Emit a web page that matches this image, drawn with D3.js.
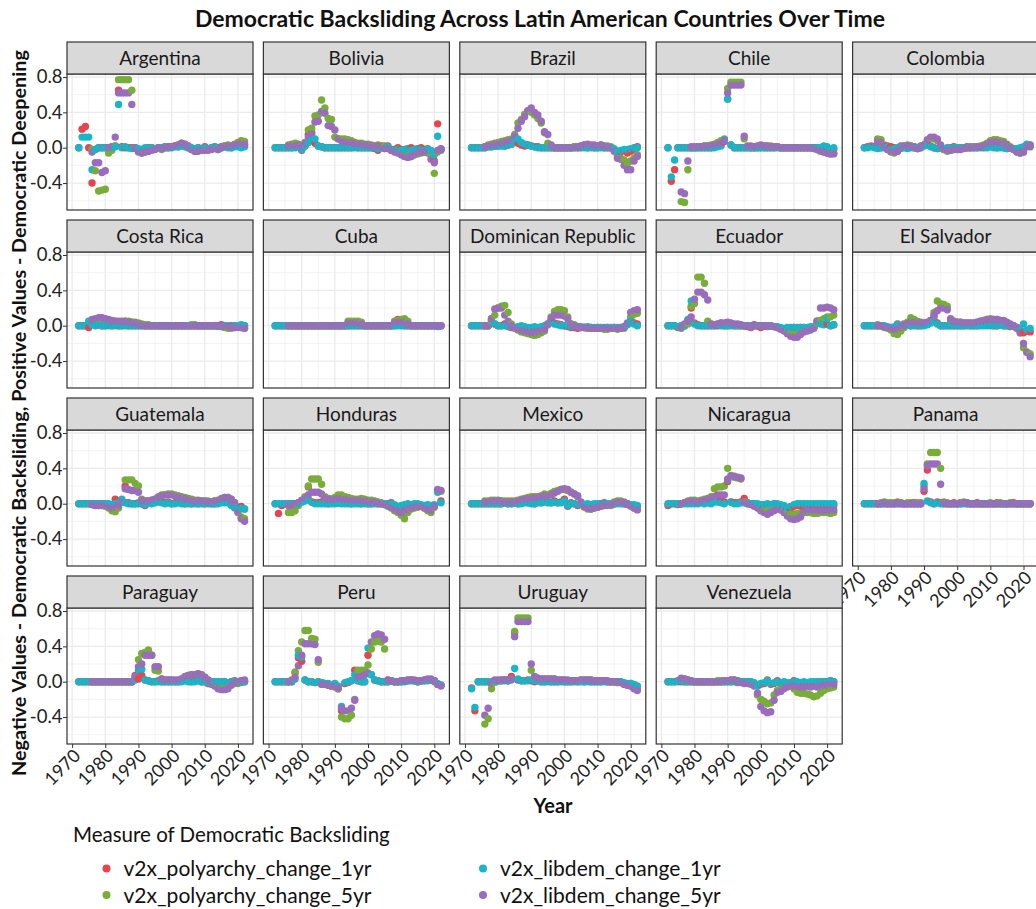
<!DOCTYPE html>
<html>
<head>
<meta charset="utf-8">
<script src="https://cdn.jsdelivr.net/npm/d3@7"></script>
<style>
  body { margin: 0; background: #fff; }
  text { font-family: Lato, "Open Sans", sans-serif; }
</style>
</head>
<body>
<svg id="chart" width="1036" height="909"></svg>
<script>
// years of the yearly change series
const years = [1972,1973,1974,1975,1976,1977,1978,1979,
  1980,1981,1982,1983,1984,1985,1986,1987,1988,1989,
  1990,1991,1992,1993,1994,1995,1996,1997,1998,1999,
  2000,2001,2002,2003,2004,2005,2006,2007,2008,2009,
  2010,2011,2012,2013,2014,2015,2016,2017,2018,2019,
  2020,2021,2022];

const measures = ["v2x_polyarchy_change_1yr", "v2x_polyarchy_change_5yr",
  "v2x_libdem_change_1yr", "v2x_libdem_change_5yr"];
const colors = ["#E5454F", "#79AD39", "#17B6C8", "#9A6CBD"];

const countries = ["Argentina", "Bolivia", "Brazil", "Chile", "Colombia",
  "Costa Rica", "Cuba", "Dominican Republic", "Ecuador", "El Salvador",
  "Guatemala", "Honduras", "Mexico", "Nicaragua", "Panama",
  "Paraguay", "Peru", "Uruguay", "Venezuela"];

const xTicks = [1970, 1980, 1990, 2000, 2010, 2020];
const xMinor = [1975, 1985, 1995, 2005, 2015];
const yTicks = [-0.4, 0, 0.4, 0.8];
const yMinor = [-0.6, -0.2, 0.2, 0.6];

// each country: [polyarchy 1yr, polyarchy 5yr, libdem 1yr, libdem 5yr], 1972..2022
const argentina = [
  [0,.21,.24,0,-.40,-.02,0,0, 0,0,.01,.02,.65,.01,0,0,0,-.01, -.02,-.03,-.01,0,0,-.01,0,-.01,.01,0, .01,.02,.01,.04,.02,0,-.01,-.02,0,-.01, .01,-.02,0,.01,-.01,.01,.02,.01,0,.03, .02,.01,.03],
  [null,null,null,null,-.02,-.26,-.49,-.48, -.47,-.06,-.03,.02,.77,.77,.77,.77,.65,0, -.04,-.06,-.05,-.04,-.02,-.01,0,-.02,0,.01, .01,.02,.03,.05,.04,.02,-.02,-.04,-.03,-.03, -.03,-.02,-.01,0,-.02,0,.02,.03,.02,.04, .06,.08,.07],
  [0,.12,.12,.12,-.25,-.02,0,0, 0,0,0,.01,.49,0,.01,0,-.01,0, -.01,-.02,0,0,0,-.01,0,0,.01,0, 0,.01,.01,.02,.01,0,0,-.01,0,-.01, 0,-.01,0,.01,0,0,.01,0,0,.01, .01,0,.01],
  [null,null,null,null,-.05,-.17,-.17,-.28, -.26,0,.01,.12,.62,.62,.62,.62,.49,0, -.05,-.06,-.05,-.04,-.03,-.02,0,-.01,0,.01, .01,.02,.03,.05,.04,.02,-.02,-.04,-.04,-.03, -.03,-.03,-.02,-.01,-.02,0,.01,.02,.02,.03, .04,.05,.04]
];
const bolivia = [
  [0,0,0,0,0,0,.02,.03, -.03,.02,.15,.17,.05,.02,.01,0,0,0, 0,0,0,0,0,0,.01,0,0,0, 0,0,-.01,-.03,.02,0,.02,-.03,-.02,0, -.02,-.03,-.01,0,-.02,-.01,0,-.02,-.01,-.05, -.15,.27,-.01],
  [null,null,null,null,.03,.04,.05,.04, .02,.06,.20,.22,.36,.37,.54,.45,.33,.32, .12,.10,.10,.10,.09,.08,.06,.05,.05,.04, .04,.03,.02,.03,.02,.02,0,-.02,-.03,-.05, -.06,-.08,-.09,-.10,-.08,-.07,-.06,-.05,-.06,-.08, -.29,-.05,-.03],
  [0,0,0,0,0,0,0,.01, -.02,.02,.06,.09,.10,.02,.01,0,0,0, 0,0,0,0,0,0,0,0,0,0, 0,0,0,-.01,0,-.01,.01,-.02,-.03,-.02, -.03,-.02,-.01,-.03,-.02,-.01,-.02,-.03,-.02,-.03, -.08,.13,-.02],
  [null,null,null,null,.02,.03,.02,.03, .01,.05,.12,.15,.29,.30,.41,.39,.25,.24, .20,.10,.08,.07,.06,.06,.05,.04,.04,.03, .03,.02,.02,.02,.01,-.01,-.01,-.03,-.05,-.06, -.08,-.10,-.11,-.10,-.08,-.06,-.05,-.05,-.05,-.13, -.17,-.03,-.02]
];
const brazil = [
  [0,0,0,0,0,.01,.01,.02, .02,.03,.02,.03,.04,.10,.05,.03,.02,.03, .02,.01,.01,0,0,0,0,0,0,0, 0,0,0,.01,0,0,.01,0,.01,0, 0,.01,0,0,0,-.02,-.08,-.05,-.03,-.06, -.04,-.02,.01],
  [null,null,null,null,.01,.03,.04,.05, .06,.07,.08,.09,.10,.15,.28,.32,.38,.42, .40,.37,.33,.28,.17,.05,.02,0,0,0, 0,0,0,.01,.01,.02,.03,.03,.02,.02, .02,.03,.02,.02,.01,-.03,-.10,-.12,-.14,-.18, -.15,-.12,-.08],
  [0,0,0,0,0,.01,.01,.02, .02,.02,.02,.03,.04,.08,.10,.06,.04,.03, .02,.01,0,0,0,0,0,0,0,0, 0,0,0,0,0,.01,0,0,0,0, 0,0,0,0,0,-.01,-.05,-.03,-.02,-.02, -.01,0,0],
  [null,null,null,null,.01,.02,.03,.04, .04,.05,.06,.07,.08,.13,.22,.30,.35,.42, .45,.40,.37,.30,.18,.15,.03,0,0,0, 0,0,0,0,.01,.02,.03,.04,.03,.03, .02,.03,.02,.01,0,-.04,-.12,-.13,-.20,-.25, -.25,-.15,-.10]
];
const chile = [
  [0,-.38,-.25,0,0,0,0,0, 0,0,0,0,0,0,.01,.02,.03,.07, .55,.03,0,0,0,0,0,0,0,0, 0,0,0,0,0,.01,0,0,0,0, 0,0,0,0,0,0,0,0,-.02,-.03, 0,-.02,-.02],
  [null,null,null,null,-.61,-.62,-.25,0, 0,.01,.01,.02,.02,.03,.04,.06,.08,.10, .67,.74,.74,.74,.74,.10,.01,0,0,.01, .01,.02,.02,.02,.01,.01,0,0,0,0, 0,0,0,0,0,0,-.01,-.02,-.03,-.05, -.06,-.07,-.06],
  [0,-.33,-.14,0,0,0,0,0, 0,0,0,0,0,0,0,.01,.02,.09, .55,.03,0,0,0,0,0,0,0,0, 0,0,0,0,0,0,0,0,0,0, 0,0,0,0,0,0,0,0,0,.02, .01,-.02,0],
  [null,null,null,null,-.50,-.52,-.15,.01, .01,.01,.01,.02,.02,.02,.03,.04,.05,.08, .62,.71,.71,.71,.71,.13,.02,.02,.01,.02, .03,.02,.02,.01,.01,.01,0,0,0,0, 0,0,0,0,0,0,-.01,-.02,-.04,-.05, -.06,-.07,-.07]
];
const colombia = [
  [0,.01,.02,.01,0,0,.01,.02, .01,0,-.01,.02,.01,0,.01,0,-.01,.02, .03,.04,.02,0,-.01,0,-.02,-.01,0,.01, -.01,0,0,.01,0,.01,0,.01,0,.01, .02,.01,0,.01,0,-.01,0,-.01,-.02,-.01, -.02,.02,.01],
  [null,null,null,null,.10,.09,.03,-.02, -.05,-.06,-.04,0,.02,.03,.02,.01,-.01,0, .03,.08,.11,.10,.08,.02,-.02,-.04,-.03,-.02, -.02,-.01,0,0,0,.01,.01,.02,.03,.05, .08,.09,.09,.08,.07,.04,.01,-.02,-.05,-.06, -.05,.02,.03],
  [0,0,.01,0,-.01,0,0,.01, -.02,-.01,0,.01,0,-.01,0,0,0,.01, .02,.03,.01,0,-.01,0,-.01,0,0,0, 0,0,0,0,.01,0,0,0,.01,0, .01,0,0,0,0,-.01,0,-.01,-.01,0, .01,.04,.02],
  [null,null,null,null,.07,.06,.02,-.02, -.04,-.05,-.04,-.01,.02,.02,.02,.01,-.01,0, .03,.09,.12,.12,.10,.03,-.01,-.03,-.03,-.02, -.02,-.02,-.01,0,0,0,.01,.01,.02,.04, .06,.07,.07,.06,.05,.03,0,-.02,-.05,-.06, -.05,.01,.03]
];
const costaRica = [
  [0,0,0,-.02,.02,.01,.01,0, 0,.01,0,.01,0,0,.01,0,0,0, 0,0,0,0,0,0,0,0,0,0, 0,0,0,0,0,0,0,0,0,0, 0,0,0,0,0,.01,0,-.01,0,0, -.01,-.01,0],
  [null,null,null,null,.06,.07,.08,.08, .07,.06,.05,.05,.04,.04,.05,.05,.04,.04, .03,.02,.01,.01,0,0,0,0,0,0, 0,0,0,0,0,0,.01,.01,0,0, 0,0,0,0,-.01,-.01,-.02,-.03,-.03,-.02, -.01,-.02,-.03],
  [0,0,0,.05,.01,0,.01,0, 0,0,0,0,0,0,0,0,0,0, 0,0,0,0,0,0,0,0,0,0, 0,0,0,0,0,0,0,0,0,0, 0,0,0,0,0,-.01,0,0,-.01,0, 0,.01,0],
  [null,null,null,null,.07,.08,.09,.09, .08,.07,.06,.05,.05,.05,.05,.04,.04,.03, .02,.01,0,0,0,0,0,0,0,0, 0,0,0,0,0,0,0,0,0,0, 0,0,0,0,0,0,-.01,-.01,-.02,-.02, -.02,-.02,-.03]
];
const cuba = [
  [0,0,0,0,0,0,0,0, 0,0,0,0,0,0,0,0,0,0, 0,0,0,0,0,0,0,0,0,0, 0,0,0,0,0,0,0,0,0,.07, .05,0,0,0,0,0,0,0,0,0, 0,0,0],
  [null,null,null,null,0,0,0,0, 0,0,0,0,0,0,0,0,0,0, 0,0,0,0,.05,.05,.05,.05,.04,0, 0,0,0,0,0,0,0,0,.05,.06, .07,.08,.05,0,0,0,0,0,0,0, 0,0,0],
  [0,0,0,0,0,0,0,0, 0,0,0,0,0,0,0,0,0,0, 0,0,0,0,0,0,0,0,0,0, 0,0,0,0,0,0,0,0,0,0, 0,0,0,0,0,0,0,0,0,0, 0,-.01,0],
  [null,null,null,null,0,0,0,0, 0,0,0,0,0,0,0,0,0,0, 0,0,0,0,.03,.03,.03,.03,.02,0, 0,0,0,0,0,0,0,0,.03,.04, .04,.04,.02,0,0,0,0,0,0,0, 0,0,0]
];
const dominicanRepublic = [
  [0,0,0,0,0,0,.06,.02, 0,0,.02,-.01,-.02,-.03,-.02,-.01,-.02,-.03, -.03,-.02,-.04,-.03,-.03,.01,.06,.03,.02,.01, 0,-.01,-.02,-.02,-.03,-.02,-.02,-.03,-.02,-.03, -.02,-.03,-.03,-.02,-.03,-.02,-.03,-.02,-.01,.02, .08,.03,.02],
  [null,null,null,null,0,0,.05,.12, .20,.22,.23,.15,.02,-.02,-.05,-.07,-.08,-.09, -.10,-.11,-.10,-.08,-.06,.02,.10,.16,.18,.18, .17,.10,.02,.01,-.01,-.02,-.02,-.03,-.03,-.03, -.03,-.03,-.04,-.04,-.03,-.03,-.04,-.03,-.03,.02, .10,.13,.14],
  [0,0,0,0,0,0,.08,.02, 0,0,0,-.01,-.01,-.02,-.01,0,-.01,-.02, -.02,-.01,-.02,-.01,0,.02,.05,.02,.01,0, 0,0,-.01,-.01,-.01,-.01,-.02,-.01,-.02,-.02, -.02,-.02,-.02,-.02,-.02,-.02,-.02,-.02,-.01,.01, .05,.02,0],
  [null,null,null,null,0,0,.08,.19, .20,.20,.12,.05,0,-.02,-.04,-.05,-.06,-.07, -.08,-.08,-.07,-.06,-.04,.02,.08,.12,.12,.12, .11,.08,.02,0,-.01,-.02,-.02,-.02,-.03,-.03, -.03,-.03,-.03,-.03,-.03,-.03,-.03,-.03,-.02,.03, .15,.17,.18]
];
const ecuador = [
  [0,0,0,-.02,0,0,.05,.20, .03,.01,0,0,0,0,0,0,.01,0, 0,.01,0,0,0,0,-.01,-.02,.01,0, -.02,0,-.01,0,-.01,-.02,-.03,-.05,-.04,-.03, -.02,-.03,-.02,-.02,-.03,-.02,-.02,.05,.03,.02, .02,0,.01],
  [null,null,null,null,-.03,0,.02,.22, .25,.55,.55,.48,.05,.02,.01,.02,.03,.02, .03,.02,.01,.01,0,0,0,-.01,0,0, 0,0,0,0,-.01,-.02,-.03,-.05,-.07,-.08, -.09,-.08,-.06,-.05,-.04,-.03,-.02,.03,.06,.08, .10,.10,.12],
  [0,0,0,-.01,0,0,.07,.28, .02,0,0,0,0,0,0,.01,0,0, 0,0,0,0,0,0,0,0,0,0, 0,0,0,0,-.01,-.01,-.02,-.03,-.02,-.02, -.02,-.02,-.02,-.02,-.02,-.01,-.01,.05,.02,.01, .08,0,.01],
  [null,null,null,null,-.02,.02,.05,.10, .30,.38,.38,.35,.29,.02,.01,.02,.03,.03, .04,.03,.02,.02,.01,0,0,-.01,0,0, 0,0,0,0,-.01,-.02,-.04,-.06,-.09,-.12, -.13,-.13,-.10,-.07,-.06,-.05,-.03,.05,.20,.20, .21,.20,.18]
];
const elSalvador = [
  [0,0,0,0,0,0,-.01,-.02, -.03,-.02,.02,-.01,.02,.02,0,.01,0,0, .01,.02,.05,.10,.03,0,0,0,0,0, 0,0,0,.01,0,0,0,.01,.01,.02, .01,0,0,.01,0,0,-.01,-.01,-.03,-.05, -.08,-.06,-.07],
  [null,null,null,null,.01,0,-.02,-.03, -.05,-.09,-.10,-.06,-.02,.04,.09,.07,.05,.04, .03,.03,.06,.15,.28,.25,.24,.22,.06,.05, .04,.04,.03,.03,.03,.03,.04,.05,.06,.07, .08,.07,.07,.06,.05,.03,.01,-.01,-.03,-.08, -.25,-.30,-.32],
  [0,0,0,0,0,0,0,-.01, -.02,-.01,.01,0,.01,.01,0,0,0,0, 0,.01,.03,.06,.02,0,0,0,0,0, 0,0,0,0,0,0,0,0,0,0, 0,0,0,.01,0,0,0,0,-.02,-.05, .02,-.05,-.03],
  [null,null,null,null,0,0,-.01,-.02, -.03,-.04,-.04,-.02,0,.02,.04,.04,.03,.03, .03,.04,.06,.12,.17,.20,.20,.18,.08,.05, .04,.04,.03,.03,.03,.03,.04,.05,.06,.07, .07,.07,.07,.06,.06,.04,.02,0,-.02,-.08, -.20,-.30,-.35]
];
const guatemala = [
  [0,0,0,0,0,0,0,0, 0,-.02,-.03,.05,.03,.02,.20,.01,0,0, .01,0,-.02,.02,.01,.03,.05,.02,.01,.02, 0,.01,.02,.01,0,.01,0,.01,0,.01, 0,.01,0,0,.01,.02,.03,.02,-.01,-.02, -.05,-.03,-.06],
  [null,null,null,null,-.01,-.02,-.02,-.02, -.03,-.05,-.08,-.09,-.05,.02,.27,.27,.27,.23, .20,.05,.03,.03,.04,.05,.08,.10,.10,.11, .11,.10,.09,.08,.07,.06,.05,.04,.04,.03, .03,.03,.02,.03,.04,.06,.07,.07,.05,.01, -.08,-.15,-.17],
  [0,0,0,0,0,0,0,0, 0,0,-.01,0,.01,.05,.01,0,0,0, 0,0,-.01,.01,0,.01,.02,.01,0,.01, 0,0,.01,0,0,0,0,0,0,0, 0,0,0,0,0,.01,.01,.01,-.02,-.05, -.04,-.05,-.06],
  [null,null,null,null,-.01,-.02,-.02,-.02, -.02,-.03,-.05,-.04,-.02,.02,.17,.16,.15,.15, .13,.04,.03,.03,.04,.05,.07,.09,.10,.10, .10,.09,.08,.07,.06,.05,.04,.03,.03,.03, .03,.02,.02,.03,.03,.05,.07,.07,.05,.01, -.10,-.17,-.20]
];
const honduras = [
  [0,-.11,-.02,0,0,0,0,.01, .03,.05,.19,.02,.01,.01,.02,.01,0,.01, .02,.01,.01,.02,.01,0,.01,.02,0,.01, 0,0,.01,0,0,-.01,0,.01,-.02,-.05, -.03,-.02,-.01,-.03,-.01,-.02,-.03,-.05,-.03,-.05, -.02,.15,.03],
  [null,null,null,null,-.10,-.10,-.08,-.02, .02,.08,.20,.28,.28,.28,.22,.08,.06,.05, .07,.10,.10,.08,.07,.06,.05,.05,.06,.05, .04,.04,.03,.02,.01,-.01,-.03,-.05,-.08,-.10, -.13,-.17,-.10,-.06,-.05,-.04,-.03,-.05,-.08,-.10, -.04,.15,.14],
  [0,0,0,0,0,0,0,0, .02,.03,.05,.02,0,0,0,0,0,0, 0,.01,0,0,0,0,0,0,0,0, 0,0,0,0,0,0,0,0,-.01,-.03, -.02,-.01,0,-.01,0,0,-.01,-.02,-.01,-.02, -.01,.13,.01],
  [null,null,null,null,-.02,-.02,-.01,.01, .04,.06,.10,.13,.13,.13,.11,.07,.05,.05, .05,.06,.06,.05,.05,.04,.04,.04,.04,.03, .03,.02,.02,.01,0,-.01,-.02,-.04,-.06,-.08, -.10,-.10,-.07,-.05,-.04,-.03,-.03,-.04,-.06,-.07, -.03,.16,.15]
];
const mexico = [
  [0,0,0,0,0,0,0,0, 0,0,.01,0,0,.01,0,.01,.02,.01, .01,0,.02,.01,.03,.02,.01,.03,.01,.02, .05,-.03,.01,0,-.02,-.01,-.02,-.01,-.02,-.01, -.01,0,.01,0,-.01,0,.01,.01,0,-.01, -.02,-.02,-.03],
  [null,null,null,null,.03,.03,.04,.04, .04,.03,.03,.03,.03,.03,.04,.05,.06,.07, .08,.08,.08,.09,.11,.10,.12,.14,.15,.16, .16,.15,.13,.11,.08,.01,-.04,-.06,-.06,-.05, -.04,-.03,-.02,-.01,-.02,.02,.03,.03,.02,0, -.03,-.05,-.06],
  [0,0,0,0,0,0,0,0, 0,0,.01,0,0,.01,0,0,.01,.01, 0,0,.01,.01,.02,.01,.01,.02,.01,.01, .03,-.02,0,0,-.01,-.01,-.01,0,-.01,0, 0,0,0,0,0,0,0,0,0,0, -.01,-.01,-.02],
  [null,null,null,null,.02,.02,.03,.03, .03,.03,.02,.02,.02,.02,.03,.04,.05,.06, .06,.07,.07,.08,.09,.09,.10,.12,.14,.16, .17,.16,.13,.11,.09,.02,-.03,-.05,-.06,-.05, -.04,-.03,-.02,-.02,-.01,0,.02,.02,.01,0, -.02,-.05,-.07]
];
const nicaragua = [
  [-.02,0,0,-.01,0,.01,.02,.03, .02,.01,.03,.02,.03,.01,.04,.10,.03,.02, .25,.02,.01,.01,.02,.06,.01,0,0,-.01, -.02,-.03,-.01,-.02,0,-.01,-.02,-.03,-.05,-.06, -.03,-.02,-.03,-.02,-.01,-.02,-.03,-.02,-.04,-.03, -.02,-.03,-.02],
  [null,null,null,null,0,.01,.03,.04, .04,.03,.04,.05,.06,.08,.17,.19,.19,.20, .40,.32,.30,.29,.28,.02,.01,0,-.02,-.04, -.06,-.08,-.07,-.05,-.04,-.04,-.05,-.08,-.10,-.12, -.12,-.11,-.11,-.10,-.10,-.10,-.11,-.11,-.10,-.10, -.10,-.11,-.10],
  [0,0,0,0,0,0,0,0, 0,0,.01,0,.01,0,.02,.02,.01,0, .27,.02,0,0,.01,.01,0,0,0,0, -.01,-.01,0,-.01,0,0,-.01,-.02,-.05,-.03, -.01,0,0,0,0,0,0,0,0,0, 0,0,0],
  [null,null,null,null,0,.01,.02,.03, .03,.02,.03,.04,.05,.06,.08,.09,.10,.10, .28,.31,.31,.30,.29,.02,0,-.01,-.03,-.05, -.08,-.10,-.12,-.10,-.08,-.06,-.07,-.10,-.14,-.17, -.18,-.17,-.15,-.10,-.08,-.07,-.08,-.08,-.08,-.08, -.08,-.08,-.07]
];
const panama = [
  [0,0,0,0,0,0,0,0, 0,0,0,.01,0,0,0,.01,0,0, .14,.38,.02,0,.02,.01,0,0,0,.01, 0,0,.01,0,0,0,.01,0,0,0, 0,0,.01,0,0,0,0,.01,0,0, 0,0,0],
  [null,null,null,null,0,.01,.02,.01, .01,.01,.02,.01,0,.01,.01,0,.01,.01, .20,.45,.58,.58,.58,.40,.02,.01,0,0, 0,.01,.02,.01,0,0,0,0,0,0, .01,0,0,.01,0,0,.01,0,0,0, 0,0,0],
  [0,0,0,0,0,0,0,0, 0,0,0,0,0,0,0,0,0,0, .23,.03,.01,0,.01,0,0,0,0,0, 0,0,0,0,0,0,0,0,0,0, 0,0,0,0,0,0,0,0,0,0, 0,0,0],
  [null,null,null,null,0,0,.01,0, 0,0,.01,0,0,0,0,0,0,0, .17,.43,.45,.45,.45,.22,.01,0,0,0, 0,.01,.01,.01,0,0,0,0,0,0, 0,0,0,0,0,0,0,0,0,0, 0,0,0]
];
const paraguay = [
  [0,0,0,0,0,0,0,0, 0,0,0,0,0,0,0,0,0,.07, .03,.07,.02,.01,0,0,.01,0,0,0, 0,0,0,.01,.02,.01,0,.01,.02,0, 0,-.02,-.03,-.01,0,-.01,0,-.02,0,.01, 0,.01,0],
  [null,null,null,null,0,0,0,0, 0,0,0,0,0,0,0,0,0,.05, .25,.32,.33,.36,.30,.13,.12,.03,.02,.02, .02,.01,.01,.03,.06,.07,.08,.08,.09,.08, .05,.02,0,-.03,-.05,-.06,-.06,-.05,-.02,-.01, -.02,-.01,.01],
  [0,0,0,0,0,0,0,0, 0,0,0,0,0,0,0,0,0,.02, .13,.14,.02,.01,0,0,0,0,0,0, 0,0,0,0,.01,0,0,0,.01,0, 0,-.01,-.02,0,0,0,0,-.01,0,0, 0,0,0],
  [null,null,null,null,0,0,0,0, 0,0,0,0,0,0,0,0,0,.05, .17,.20,.30,.30,.30,.17,.17,.03,.02,.02, .02,.02,.02,.03,.05,.07,.08,.08,.09,.08, .05,.02,0,-.05,-.08,-.09,-.09,-.08,-.04,-.02, -.01,.01,.02]
];
const peru = [
  [0,0,0,0,0,0,.10,.27, .23,.02,0,0,-.01,0,-.01,-.02,-.03,-.05, -.03,-.08,-.33,-.02,-.01,.01,.13,.01,0,0, .30,.08,.02,.01,0,0,0,.01,0,0, 0,.01,.01,.02,.01,0,.01,.01,.02,.02, .01,-.03,-.04],
  [null,null,null,null,0,.02,.11,.35, .45,.58,.58,.49,.48,.22,-.03,-.03,-.04,-.05, -.06,-.08,-.40,-.42,-.42,-.38,-.20,.13,.13,.13, .19,.37,.45,.46,.45,.37,.02,.01,0,0, .01,.01,.02,.02,.01,0,.01,.02,.02,.02, 0,-.03,-.04],
  [0,0,0,0,0,0,.03,.30, .28,.02,0,0,-.01,0,-.01,-.02,-.02,-.04, -.02,-.05,-.28,-.01,0,.01,.08,.01,0,0, .38,.08,.02,.01,0,0,0,.01,0,0, 0,0,.01,.01,.01,0,.01,.01,.01,.02, .01,-.02,-.04],
  [null,null,null,null,0,.01,.05,.18, .30,.43,.43,.43,.42,.25,-.03,-.03,-.04,-.05, -.05,-.07,-.30,-.33,-.33,-.30,-.21,.05,.06,.08, .10,.45,.52,.54,.53,.48,.02,.01,0,0, .01,.01,.02,.02,.02,.01,.01,.02,.03,.03, .01,-.03,-.05]
];
const uruguay = [
  [-.07,-.33,0,0,0,0,-.01,.01, .01,.01,.02,.01,.06,.55,.02,.01,.01,.02, .01,0,.01,0,0,.01,0,0,0,.01, 0,0,0,.01,0,.01,0,.01,0,0, 0,0,.01,0,0,0,-.01,0,-.02,-.03, -.02,-.04,-.05],
  [null,null,null,null,-.48,-.42,-.08,-.01, .01,.02,.02,.02,.03,.57,.72,.72,.72,.72, .13,.05,.04,.03,.03,.03,.03,.03,.02,.02, .02,.01,.01,.01,.01,.02,.02,.02,.02,.01, .01,.01,.01,0,0,0,-.01,-.01,-.03,-.04, -.05,-.07,-.08],
  [-.08,-.29,0,0,0,0,0,.01, .01,.01,.01,.01,.02,.15,.03,.01,.01,.01, .02,.01,.01,0,0,0,0,0,0,0, 0,0,0,0,0,0,0,0,0,0, 0,0,0,0,0,0,0,0,-.01,-.02, -.02,-.03,-.05],
  [null,null,null,null,-.38,-.30,-.02,.02, .02,.02,.02,.02,.03,.51,.68,.68,.68,.68, .20,.06,.04,.03,.03,.03,.03,.03,.02,.02, .02,.02,.01,.01,.01,.02,.02,.02,.02,.01, .01,.01,.01,.01,0,0,0,-.01,-.03,-.04, -.05,-.08,-.10]
];
const venezuela = [
  [0,0,0,.01,0,0,0,0, 0,0,0,0,0,0,0,0,0,0, 0,0,.01,-.01,0,0,0,0,-.02,-.05, -.03,-.02,.02,-.03,-.02,.01,-.02,-.01,-.03,-.02, .01,-.01,-.02,-.03,-.02,-.03,-.02,-.01,0,0, 0,.01,0],
  [null,null,null,null,.03,.03,.02,.01, 0,0,0,0,0,0,0,.01,.01,.01, .01,.02,.02,.01,0,-.01,-.01,-.02,-.03,-.15, -.20,-.22,-.25,-.24,-.15,-.10,-.08,-.06,-.05,-.05, -.08,-.12,-.13,-.13,-.14,-.15,-.17,-.16,-.13,-.10, -.08,-.07,-.06],
  [0,0,0,0,.01,0,0,0, 0,0,0,0,0,0,0,0,0,0, 0,0,0,0,0,0,0,0,-.01,-.05, -.02,-.01,.01,-.02,-.01,0,-.01,0,-.01,-.01, 0,0,-.01,0,-.01,0,0,0,0,0, 0,.01,0],
  [null,null,null,null,.04,.03,.02,.01, 0,0,0,0,0,0,0,0,0,.01, .01,.02,.02,.01,-.01,-.02,-.02,-.03,-.05,-.13, -.28,-.33,-.35,-.34,-.21,-.12,-.11,-.08,-.06,-.05, -.05,-.05,-.06,-.06,-.05,-.06,-.05,-.06,-.05,-.04, -.04,-.03,-.03]
];

const countryValues = [argentina, bolivia, brazil, chile, colombia,
  costaRica, cuba, dominicanRepublic, ecuador, elSalvador,
  guatemala, honduras, mexico, nicaragua, panama,
  paraguay, peru, uruguay, venezuela];

countryValues.forEach((c, k) => c.forEach((s, m) => {
  if (s.length !== years.length) console.error(countries[k], m, s.length);
}));

// layout
const panelLeft0 = 67, panelStep = 196.4, panelW = 186;
const rowTop0 = 42, rowStep = 178, stripH = 32, plotH = 136;
const ncol = 5;
const font = 'Lato, "Open Sans", sans-serif';

const svg = d3.select('#chart');
svg.append('rect').attr('width', 1036).attr('height', 909).attr('fill', '#fff');

const defs = svg.append('defs');

countries.forEach((name, k) => {
  const col = k % ncol, row = Math.floor(k / ncol);
  const left = panelLeft0 + col * panelStep;
  const top = rowTop0 + row * rowStep;
  const plotTop = top + stripH, plotBottom = plotTop + plotH;

  const x = d3.scaleLinear().domain([1968.45, 2024.55]).range([left, left + panelW]);
  const y = d3.scaleLinear().domain([-0.705, 0.834]).range([plotBottom, plotTop]);

  const g = svg.append('g').attr('class', 'panel');

  defs.append('clipPath').attr('id', 'clip' + k)
    .append('rect').attr('x', left).attr('y', plotTop).attr('width', panelW).attr('height', plotH);

  g.append('rect').attr('x', left).attr('y', plotTop).attr('width', panelW).attr('height', plotH)
    .attr('fill', '#fff');

  // grid
  g.selectAll('.vminor').data(xMinor).enter().append('line')
    .attr('x1', d => x(d)).attr('x2', d => x(d)).attr('y1', plotTop).attr('y2', plotBottom)
    .attr('stroke', '#F0F0F0').attr('stroke-width', 0.8);
  g.selectAll('.hminor').data(yMinor).enter().append('line')
    .attr('y1', d => y(d)).attr('y2', d => y(d)).attr('x1', left).attr('x2', left + panelW)
    .attr('stroke', '#F0F0F0').attr('stroke-width', 0.8);
  g.selectAll('.vmajor').data(xTicks).enter().append('line')
    .attr('x1', d => x(d)).attr('x2', d => x(d)).attr('y1', plotTop).attr('y2', plotBottom)
    .attr('stroke', '#EBEBEB').attr('stroke-width', 1.3);
  g.selectAll('.hmajor').data(yTicks).enter().append('line')
    .attr('y1', d => y(d)).attr('y2', d => y(d)).attr('x1', left).attr('x2', left + panelW)
    .attr('stroke', '#EBEBEB').attr('stroke-width', 1.3);

  // points, year by year, four measures each
  const values = countryValues[k];
  const pts = [];
  years.forEach((yr, i) => {
    measures.forEach((ms, m) => {
      const v = values[m][i];
      if (v !== null && v !== undefined) pts.push({ year: yr, value: v, m: m });
    });
  });
  g.append('g').attr('clip-path', `url(#clip${k})`)
    .selectAll('circle').data(pts).enter().append('circle')
    .attr('cx', d => x(d.year)).attr('cy', d => y(d.value)).attr('r', 3.7)
    .attr('fill', d => colors[d.m]);

  // border
  g.append('rect').attr('x', left).attr('y', plotTop).attr('width', panelW).attr('height', plotH)
    .attr('fill', 'none').attr('stroke', '#333').attr('stroke-width', 1.2);

  // strip
  g.append('rect').attr('x', left).attr('y', top).attr('width', panelW).attr('height', stripH)
    .attr('fill', '#D9D9D9').attr('stroke', '#333').attr('stroke-width', 1.2);
  g.append('text').attr('x', left + panelW / 2).attr('y', top + 23)
    .attr('text-anchor', 'middle').attr('font-size', 19).attr('fill', '#1A1A1A').text(name);

  // y axis on first column
  if (col === 0) {
    const ay = g.append('g').attr('transform', `translate(${left},0)`)
      .call(d3.axisLeft(y).tickValues(yTicks).tickSize(4).tickFormat(d => d.toFixed(1)));
    ay.select('.domain').remove();
    ay.selectAll('line').attr('stroke', '#333');
    ay.selectAll('text').attr('font-size', 18.5).attr('fill', '#222').attr('x', -4.5)
      .style('font-family', font);
  }
  // x axis under the last panel of each column
  if (k + ncol >= countries.length) {
    const ax = g.append('g').attr('transform', `translate(0,${plotBottom})`)
      .call(d3.axisBottom(x).tickValues(xTicks).tickSize(4).tickFormat(d3.format('d')));
    ax.select('.domain').remove();
    ax.selectAll('line').attr('stroke', '#333');
    ax.selectAll('text').attr('font-size', 18).attr('fill', '#222')
      .attr('x', 0).attr('y', 0).attr('dy', '0.7em')
      .attr('transform', 'translate(0,4) rotate(-45)')
      .style('text-anchor', 'end')
      .style('font-family', font);
  }
});

// titles
svg.append('text').attr('x', 540).attr('y', 27).attr('text-anchor', 'middle')
  .attr('font-size', 23).attr('font-weight', 'bold').attr('fill', '#111')
  .text('Democratic Backsliding Across Latin American Countries Over Time');

svg.append('text').attr('x', 553).attr('y', 813).attr('text-anchor', 'middle')
  .attr('font-size', 20).attr('font-weight', 'bold').attr('fill', '#111').text('Year');

svg.append('text').attr('transform', 'translate(25.5,413) rotate(-90)').attr('text-anchor', 'middle')
  .attr('font-size', 19.8).attr('font-weight', 'bold').attr('fill', '#111')
  .text('Negative Values - Democratic Backsliding, Positive Values - Democratic Deepening');

// legend
const legend = svg.append('g');
legend.append('text').attr('x', 73).attr('y', 842).attr('font-size', 20.5).attr('fill', '#111')
  .text('Measure of Democratic Backsliding');
const legendPos = [[106.5, 868.5], [106.5, 895], [483, 868.5], [483, 895]];
measures.forEach((ms, m) => {
  legend.append('circle').attr('cx', legendPos[m][0]).attr('cy', legendPos[m][1]).attr('r', 4)
    .attr('fill', colors[m]);
  legend.append('text').attr('x', legendPos[m][0] + 17).attr('y', legendPos[m][1] + 7.5)
    .attr('font-size', 21).attr('fill', '#111').text(ms);
});
</script>
</body>
</html>
